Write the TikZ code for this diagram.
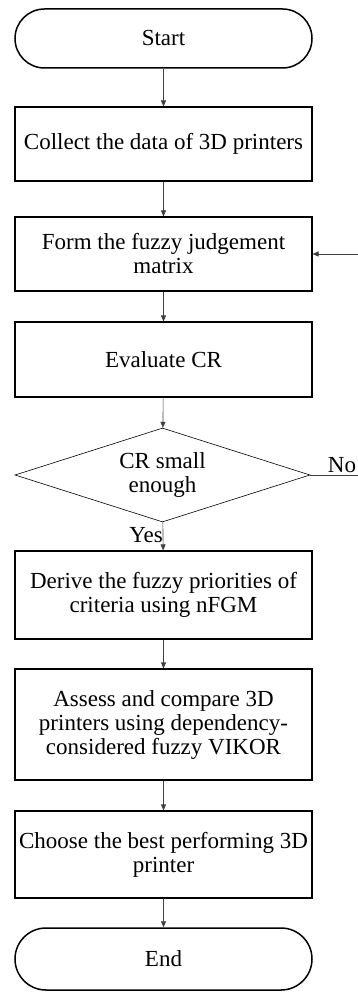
\documentclass[tikz,border=0pt]{standalone}
\usepackage{fontspec}
\setmainfont{Liberation Serif}
\usepackage{tikz}
\usetikzlibrary{arrows.meta, positioning, shapes.geometric, shapes.misc}

\begin{document}
\begin{tikzpicture}[
    x=1pt, y=-1pt,
    every node/.style={font=\fontsize{23}{24}\selectfont, align=center, inner sep=0pt},
    box/.style={rectangle, draw, line width=1.1pt, minimum width=297},
    term/.style={rounded rectangle, draw, line width=1.5pt, minimum width=297},
    decision/.style={diamond, draw, line width=0.6pt, minimum width=295, minimum height=94, aspect=3.14},
    flow/.style={draw=black!75, line width=0.6pt, -{Triangle[length=6pt, width=5pt]}}
]
\useasboundingbox (0,0) rectangle (358,992);
\clip (0,0) rectangle (358,992);
\node[term, minimum height=59] (start) at (163.5, 38.5) {Start};
\node[box, minimum height=74] (collect) at (163.5, 144) {Collect the data of 3D printers};
\node[box, minimum height=74] (form) at (163.5, 254) {Form the fuzzy judgement\\matrix};
\node[box, minimum height=75] (eval) at (163.5, 359.5) {Evaluate CR};
\node[decision] (check) at (162.5, 475) {CR small\\enough};
\node[box, minimum height=88] (derive) at (163.5, 595) {Derive the fuzzy priorities of\\criteria using nFGM};
\node[box, minimum height=111] (assess) at (163.5, 724.5) {Assess and compare 3D\\printers using dependency-\\considered fuzzy VIKOR};
\node[box, minimum height=87] (choose) at (163.5, 854.5) {Choose the best performing 3D\\printer};
\node[term, minimum height=62] (end) at (163.5, 959) {End};
\node (yes) at (146, 535) {Yes};
\node (no) at (342, 465) {No};
\coordinate (loop) at (380, 0);
\draw[flow] (start) -- (collect);
\draw[flow] (collect) -- (form);
\draw[flow] (form) -- (eval);
\draw[flow] (eval) -- (check);
\draw[flow] (check) -- (derive);
\draw[flow] (derive) -- (assess);
\draw[flow] (assess) -- (choose);
\draw[flow] (choose) -- (end);
\draw[flow] (check.east) -- (check.east -| loop) -- (form.east -| loop) -- (form.east);
\end{tikzpicture}
\end{document}
